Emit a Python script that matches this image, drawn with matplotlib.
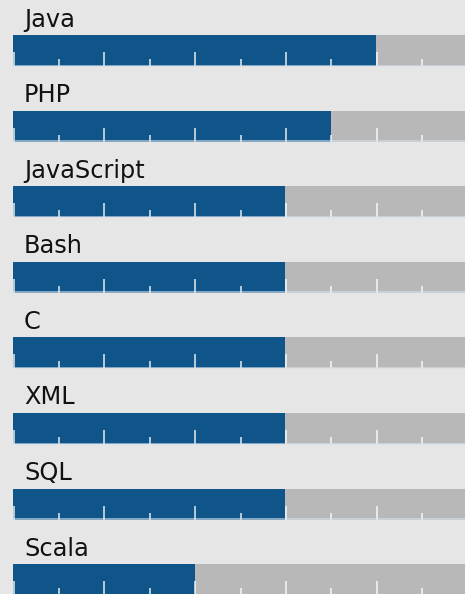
import matplotlib
matplotlib.use("Agg")
import matplotlib.pyplot as plt
import numpy as np

languages = ["Java", "PHP", "JavaScript", "Bash", "C", "XML", "SQL", "Scala"]
scores = [8, 7, 6, 6, 6, 6, 6, 4]
max_score = 10
major_ticks = [0, 2, 4, 6, 8]
minor_ticks = [1, 3, 5, 7, 9]

W, H = 465, 594
fig = plt.figure(figsize=(W / 100, H / 100), dpi=100)
fig.patch.set_facecolor("#e6e6e6")
ax = fig.add_axes([0, 0, 1, 1])
ax.set_facecolor("#e6e6e6")

px_per_unit = 45.35
left_px = 13.3
ax.set_xlim(-left_px / px_per_unit, (W - left_px) / px_per_unit)
ax.set_ylim(H, 0)
ax.axis("off")

row_step = 75.6
bar_top0 = 35
bar_h = 31
blue = "#10558a"
track = "#b8b8b8"

for i, (lang, s) in enumerate(zip(languages, scores)):
    top = bar_top0 + i * row_step
    bottom = top + bar_h
    ax.barh(top, max_score, height=bar_h, left=0, align="edge",
            color=track, linewidth=0, zorder=1)
    ax.barh(top, s, height=bar_h, left=0, align="edge",
            color=blue, linewidth=0, zorder=2)
    ax.vlines(np.array(major_ticks) + 0.01, bottom - 14, bottom, colors="white",
              linewidth=1.3, alpha=0.75, zorder=3)
    ax.vlines(np.array(minor_ticks) + 0.01, bottom - 7, bottom, colors="white",
              linewidth=1.3, alpha=0.75, zorder=3)
    ax.hlines(bottom - 0.5, 0, max_score, colors="#d8e2ec",
              linewidth=1.2, alpha=0.7, zorder=3)
    ax.text(10.7 / px_per_unit, top - 8.5, lang, fontsize=17.3,
            family="DejaVu Sans", color="#111111", va="baseline", ha="left")

fig.savefig("out.png", dpi=100, facecolor=fig.get_facecolor())
